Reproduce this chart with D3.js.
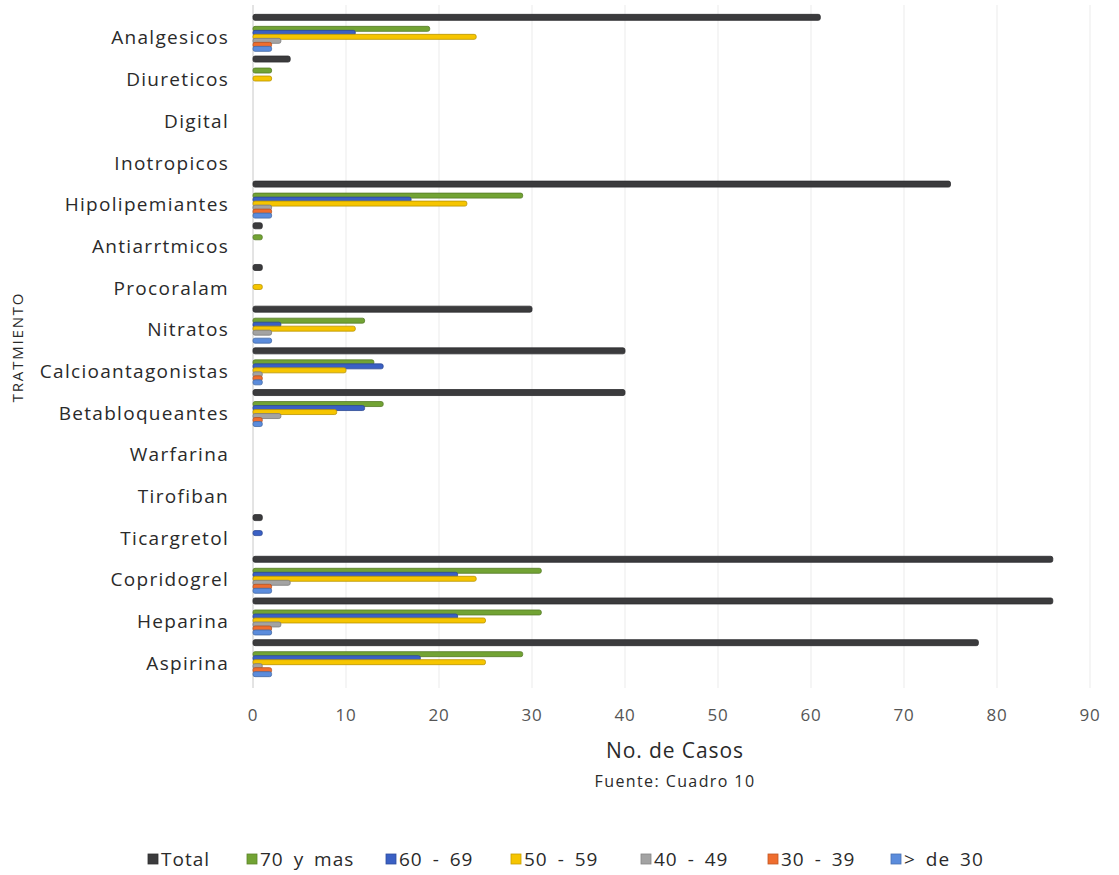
<!DOCTYPE html>
<html>
<head>
<meta charset="utf-8">
<script src="https://cdn.jsdelivr.net/npm/d3@7"></script>
<style>
  body { margin: 0; background: #fff; }
  text { font-family: "Open Sans", "Noto Sans", sans-serif; }
</style>
</head>
<body>
<svg id="chart" width="1119" height="875"></svg>
<script>
// categories, top to bottom
const categories = ["Analgesicos", "Diureticos", "Digital", "Inotropicos", "Hipolipemiantes",
  "Antiarrtmicos", "Procoralam", "Nitratos", "Calcioantagonistas", "Betabloqueantes",
  "Warfarina", "Tirofiban", "Ticargretol", "Copridogrel", "Heparina", "Aspirina"];

const series = ["Total", "70 y mas", "60 - 69", "50 - 59", "40 - 49", "30 - 39", "> de 30"];

const total   = [61, 4, 0, 0, 75, 1, 1, 30, 40, 40, 0, 0, 1, 86, 86, 78];
const age70   = [19, 2, 0, 0, 29, 1, 0, 12, 13, 14, 0, 0, 0, 31, 31, 29];
const age60   = [11, 0, 0, 0, 17, 0, 0,  3, 14, 12, 0, 0, 1, 22, 22, 18];
const age50   = [24, 2, 0, 0, 23, 0, 1, 11, 10,  9, 0, 0, 0, 24, 25, 25];
const age40   = [ 3, 0, 0, 0,  2, 0, 0,  2,  1,  3, 0, 0, 0,  4,  3,  1];
const age30   = [ 2, 0, 0, 0,  2, 0, 0,  0,  1,  1, 0, 0, 0,  2,  2,  2];
const ageLt30 = [ 2, 0, 0, 0,  2, 0, 0,  2,  1,  1, 0, 0, 0,  2,  2,  2];

const xTicks = [0, 10, 20, 30, 40, 50, 60, 70, 80, 90];

const colors = ["#3b3b3d", "#72a334", "#3a60c4", "#f6c500", "#a3a3a3", "#ef6d2e", "#5b8cdc"];
const values = [total, age70, age60, age50, age40, age30, ageLt30];

const svg = d3.select("#chart");

const x = d3.scaleLinear().domain([0, 90]).range([253, 1090]);
const y = d3.scaleBand().domain(categories).range([17, 684]);
const inner = d3.scaleBand().domain(series.slice(1)).range([-11, 13]);

// gridlines
svg.append("g").selectAll("line")
  .data(xTicks.slice(1))
  .enter().append("line")
    .attr("x1", d => x(d)).attr("x2", d => x(d))
    .attr("y1", 5).attr("y2", 688)
    .style("stroke", "#ebebeb")
    .style("stroke-width", 1);

svg.append("line")
  .attr("x1", x(0)).attr("x2", x(0))
  .attr("y1", 5).attr("y2", 688)
  .style("stroke", "#c8c8c8")
  .style("stroke-width", 1);

// bars
const barData = [];
categories.forEach((c, i) => {
  series.forEach((s, j) => {
    barData.push({ cat: c, s: s, j: j, v: values[j][i] });
  });
});

svg.append("g").selectAll("rect")
  .data(barData.filter(d => d.v > 0))
  .enter().append("rect")
    .attr("x", x(0))
    .attr("y", d => {
      const c = y(d.cat) + y.bandwidth() / 2;
      return d.j === 0 ? c - 23.5 : c + inner(d.s) - 0.5;
    })
    .attr("width", d => x(d.v) - x(0))
    .attr("height", d => d.j === 0 ? 6 : 5)
    .attr("rx", 2)
    .style("fill", d => colors[d.j])
    .style("stroke", d => d3.color(colors[d.j]).darker(0.8))
    .style("stroke-width", 0.8);

// category labels
svg.append("g").selectAll("text")
  .data(categories)
  .enter().append("text")
    .attr("x", 229)
    .attr("y", d => y(d) + y.bandwidth() / 2)
    .attr("dy", "0.35em")
    .attr("text-anchor", "end")
    .style("font-size", "19px")
    .style("letter-spacing", "1.3px")
    .style("fill", "#2a2a2a")
    .text(d => d);

// x tick labels
svg.append("g").selectAll("text")
  .data(xTicks)
  .enter().append("text")
    .attr("x", d => x(d))
    .attr("y", 721)
    .attr("text-anchor", "middle")
    .style("font-size", "17px")
    .style("letter-spacing", "0.8px")
    .style("fill", "#555")
    .text(d => d);

svg.append("text")
  .attr("x", 675).attr("y", 758)
  .attr("text-anchor", "middle")
  .style("font-size", "21px")
  .style("letter-spacing", "0.9px")
  .style("fill", "#2a2a2a")
  .text("No. de Casos");

svg.append("text")
  .attr("x", 675).attr("y", 787)
  .attr("text-anchor", "middle")
  .style("font-size", "16px")
  .style("letter-spacing", "1.4px")
  .style("fill", "#2a2a2a")
  .text("Fuente: Cuadro 10");

svg.append("text")
  .attr("transform", "translate(23,347) rotate(-90)")
  .attr("text-anchor", "middle")
  .style("font-size", "15px")
  .style("letter-spacing", "1.8px")
  .style("fill", "#2a2a2a")
  .text("TRATMIENTO");

// legend
const legendX = [148, 247, 386, 511, 641, 768, 891];
const lg = svg.append("g").selectAll("g")
  .data(series)
  .enter().append("g")
    .attr("transform", (d, i) => `translate(${legendX[i]},859)`);

lg.append("rect")
  .attr("x", 0).attr("y", -5)
  .attr("width", 10).attr("height", 10)
  .style("fill", (d, i) => colors[i])
  .style("stroke", (d, i) => d3.color(colors[i]).darker(0.6))
  .style("stroke-width", 0.8);

lg.append("text")
  .attr("x", 13).attr("dy", "0.35em")
  .style("font-size", "19px")
  .style("letter-spacing", "1px")
  .style("word-spacing", "4px")
  .style("fill", "#2a2a2a")
  .text(d => d);
</script>
</body>
</html>
